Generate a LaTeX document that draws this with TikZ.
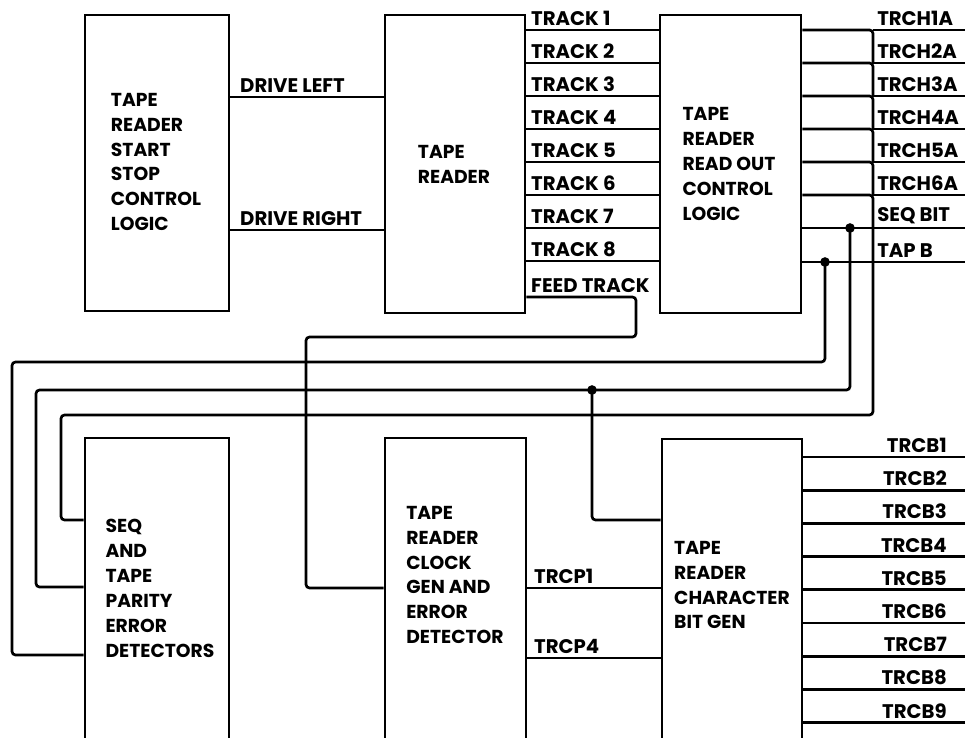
\documentclass[tikz,border=0pt]{standalone}
\usepackage{fontspec}
\setmainfont{Poppins}
\usetikzlibrary{calc,fit}
\definecolor{WireClr}{RGB}{0,0,0}

\begin{document}
\begin{tikzpicture}[x=0.03cm,y=-0.03cm,
  blk/.style={draw=WireClr,line width=2.3pt,inner sep=0pt},
  wire/.style={draw=WireClr,line width=2.3pt,rounded corners=3pt},
  blktxt/.style={align=left,inner sep=0pt,font=\fontsize{16}{21.3}\selectfont\bfseries},
  wlbl/.style={anchor=south west,inner sep=0pt,yshift=3.5pt,font=\fontsize{16.8}{18}\selectfont\bfseries},
  rlbl/.style={wlbl,anchor=south east},
  jdot/.style={circle,fill=WireClr,inner sep=0pt,minimum size=0.29cm}]
\clip (0,0) rectangle (965,738);

\node[blk,fit={(85,15) (229,311)}] (ssc) {};
\node[blk,fit={(385,15) (525,313)}] (rdr) {};
\node[blk,fit={(660,15) (801,313)}] (roc) {};
\node[blk,fit={(85,438) (229,760)}] (par) {};
\node[blk,fit={(385,438) (526,760)}] (clk) {};
\node[blk,fit={(662,439) (802,760)}] (chr) {};

\node[blktxt] (tssc) at (156,162) {TAPE\\READER\\START\\STOP\\CONTROL\\LOGIC};
\node[blktxt] (trdr) at (454,164) {TAPE\\READER};
\node[blktxt] (troc) at (729,164) {TAPE\\READER\\READ OUT\\CONTROL\\LOGIC};
\node[blktxt] (tpar) at (160,588) {SEQ\\AND\\TAPE\\PARITY\\ERROR\\DETECTORS};
\node[blktxt] (tclk) at (455,575) {TAPE\\READER\\CLOCK\\GEN AND\\ERROR\\DETECTOR};
\node[blktxt] (tchr) at (732,585) {TAPE\\READER\\CHARACTER\\BIT GEN};

\draw[wire] (ssc.east |- 0,97) -- (rdr.west |- 0,97);
\draw[wire] (ssc.east |- 0,230) -- (rdr.west |- 0,230);
\node[wlbl] (dl) at (240,97) {DRIVE LEFT};
\node[wlbl] (dr) at (240,230) {DRIVE RIGHT};

\foreach \i [evaluate=\i as \y using {30+33*(\i-1)}] in {1,...,8}{
  \draw[wire] (rdr.east |- 0,\y) -- (roc.west |- 0,\y);
  \node[wlbl] (trk\i) at (531,\y) {TRACK \i};
}

\foreach \i [evaluate=\i as \y using {30+33*(\i-1)}] in {1,...,5}{
  \coordinate (ch\i) at (965,\y);
  \draw[wire] (roc.east |- ch\i) -- (873,\y) -- (873,{\y+33});
  \draw[wire] (873,\y) -- (ch\i);
  \node[wlbl] (lch\i) at (877,\y) {TRCH\i A};
}
\coordinate (ch6) at (965,195);
\draw[wire] (roc.east |- ch6) -- (873,195) -- (873,415) -- (61,415) -- (61,520) -- (par.west |- 0,520);
\draw[wire] (873,195) -- (ch6);
\node[wlbl] (lch6) at (877,195) {TRCH6A};

\node[jdot] (jseq) at (850,228) {};
\node[jdot] (jtap) at (825,262) {};
\node[jdot] (jchr) at (592,390) {};
\coordinate (seq) at (965,228);
\coordinate (tap) at (965,262);

\draw[wire] (roc.east |- seq) -- (seq);
\draw[wire] (roc.east |- tap) -- (tap);
\node[wlbl] (lseq) at (877,228) {SEQ BIT};
\node[wlbl] (ltap) at (877,262) {TAP B};

\draw[wire] (jseq.center) -- (850,390) -- (jchr.center) -- (36,390) -- (36,587) -- (par.west |- 0,587);
\draw[wire] (jchr.center) -- (592,520) -- (chr.west |- 0,520);
\draw[wire] (jtap.center) -- (825,362) -- (12,362) -- (12,655) -- (par.west |- 0,655);

\draw[wire] (rdr.east |- 0,297) -- (636,297) -- (636,337) -- (306,337) -- (306,588) -- (clk.west |- 0,588);
\node[wlbl] (lfeed) at (531,297) {FEED TRACK};

\draw[wire] (clk.east |- 0,588) -- (chr.west |- 0,588);
\draw[wire] (clk.east |- 0,658) -- (chr.west |- 0,658);
\node[wlbl] (lp1) at (534,588) {TRCP1};
\node[wlbl] (lp4) at (534,658) {TRCP4};

\foreach \i [evaluate=\i as \y using {457+33.2*(\i-1)}] in {1,...,9}{
  \coordinate (cb\i) at (965,\y);
  \draw[wire] (chr.east |- cb\i) -- (cb\i);
  \node[rlbl] (lcb\i) at (947,\y) {TRCB\i};
}

\end{tikzpicture}
\end{document}
